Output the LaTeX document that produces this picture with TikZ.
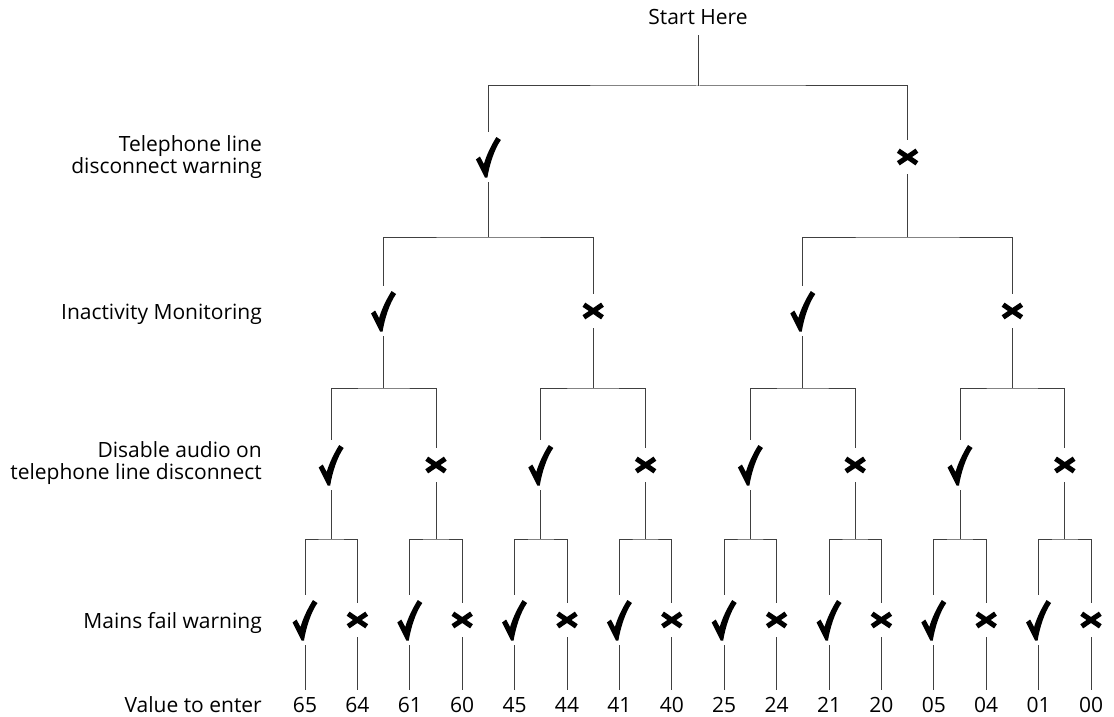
\documentclass[tikz,border=0pt]{standalone}
\usepackage{fontspec}
\setmainfont{Open Sans}
\begin{document}
\begin{tikzpicture}[x=1pt,y=-1pt,
  txt/.style={font=\fontsize{21}{21.6}\selectfont, inner sep=0pt},
  lbl/.style={txt, align=right},
  conn/.style={draw=black!75, line width=1pt},
  chk/.style={inner sep=0pt, minimum width=28pt, minimum height=50pt,
    path picture={\fill[black, shift={(path picture bounding box.center)}]
      (-12.5,2.5) -- (-8.5,-0.5) -- (-4.5,7)
      .. controls (-2,-2) and (3,-12) .. (8,-20)
      -- (12.5,-17)
      .. controls (6,-8) and (1,8) .. (-1,20.5)
      -- (-3.5,20.5) -- cycle;}},
  crs/.style={inner sep=0pt, minimum width=24pt, minimum height=34pt,
    path picture={\draw[black, line width=5pt, shift={(path picture bounding box.center)}]
      (-9.3,-6.3) -- (9.3,6.3) (-9.3,6.3) -- (9.3,-6.3);}},
  val/.style={txt, minimum height=30pt},
  strt/.style={txt, minimum height=36pt}]
\useasboundingbox (0,0) rectangle (1114,717);

% row labels
\node[lbl, anchor=east] (t1) at (262,157) {Telephone line\\disconnect warning};
\node[lbl, anchor=base east] (t2) at (262,319) {Inactivity Monitoring};
\node[lbl, anchor=east] (t3) at (262,463) {Disable audio on\\telephone line disconnect};
\node[lbl, anchor=base east] (t4) at (262,628) {Mains fail warning};
\node[lbl, anchor=base east] (t5) at (262,712) {Value to enter};

% root
\node[strt] (start) at (698,17) {Start Here};
\coordinate (jr) at (698,86);
\draw[conn] (start) -- (jr);

% level 1
\foreach \k/\x/\s in {0/488.4/chk, 1/907.6/crs} {
  \node[\s] (a\k) at (\x,157) {};
  \coordinate (ja\k) at (\x,237);
  \draw[conn] (a\k) -- (ja\k);
}
\draw[conn] (a0) |- (jr) -| (a1);

% level 2
\foreach \k/\x/\s in {0/383.6/chk, 1/593.2/crs, 2/802.8/chk, 3/1012.4/crs} {
  \node[\s] (b\k) at (\x,311) {};
  \coordinate (jb\k) at (\x,388);
  \draw[conn] (b\k) -- (jb\k);
}
\foreach \p in {0,1} {
  \pgfmathtruncatemacro{\l}{2*\p}
  \pgfmathtruncatemacro{\r}{2*\p+1}
  \draw[conn] (b\l) |- (ja\p) -| (b\r);
}

% level 3
\foreach \k/\x/\s in {0/331.2/chk, 1/436.0/crs, 2/540.8/chk, 3/645.6/crs,
                      4/750.4/chk, 5/855.2/crs, 6/960.0/chk, 7/1064.8/crs} {
  \node[\s] (c\k) at (\x,465) {};
  \coordinate (jc\k) at (\x,539);
  \draw[conn] (c\k) -- (jc\k);
}
\foreach \p in {0,...,3} {
  \pgfmathtruncatemacro{\l}{2*\p}
  \pgfmathtruncatemacro{\r}{2*\p+1}
  \draw[conn] (c\l) |- (jb\p) -| (c\r);
}

% level 4 (leaves) and values
\foreach \k/\x/\s/\v in {0/305/chk/65, 1/357.4/crs/64, 2/409.8/chk/61, 3/462.2/crs/60,
                         4/514.6/chk/45, 5/567.0/crs/44, 6/619.4/chk/41, 7/671.8/crs/40,
                         8/724.2/chk/25, 9/776.6/crs/24, 10/829.0/chk/21, 11/881.4/crs/20,
                         12/933.8/chk/05, 13/986.2/crs/04, 14/1038.6/chk/01, 15/1091.0/crs/00} {
  \node[\s] (d\k) at (\x,620) {};
  \node[val] (v\k) at (\x,705) {\v};
  \draw[conn] (d\k) -- (v\k);
}
\foreach \p in {0,...,7} {
  \pgfmathtruncatemacro{\l}{2*\p}
  \pgfmathtruncatemacro{\r}{2*\p+1}
  \draw[conn] (d\l) |- (jc\p) -| (d\r);
}
\end{tikzpicture}
\end{document}
